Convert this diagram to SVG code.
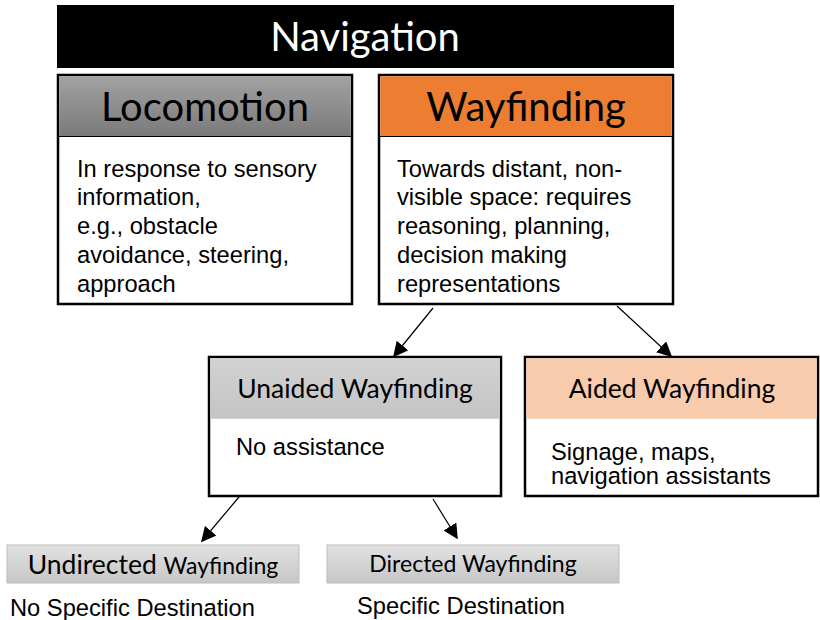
<svg xmlns="http://www.w3.org/2000/svg" width="820" height="620" viewBox="0 0 820 620">
  <style>
    .box { fill: #ffffff; stroke: #000000; stroke-width: 2.5; }
    .hdr { font-family: Lato, "Open Sans", sans-serif; text-anchor: middle; fill: #000000; }
    .body { font-family: "Liberation Sans", Arial, sans-serif; font-size: 23.7px; fill: #000000; }
    .edge { stroke: #000000; stroke-width: 1.2; fill: none; marker-end: url(#arrow); }
  </style>
  <defs>
    <linearGradient id="gDark" x1="0" y1="0" x2="0" y2="1">
      <stop offset="0" stop-color="#a2a2a2"/>
      <stop offset="1" stop-color="#7a7a7a"/>
    </linearGradient>
    <linearGradient id="gLight" x1="0" y1="0" x2="0" y2="1">
      <stop offset="0" stop-color="#d2d2d2"/>
      <stop offset="1" stop-color="#c4c4c4"/>
    </linearGradient>
    <linearGradient id="gPale" x1="0" y1="0" x2="0" y2="1">
      <stop offset="0" stop-color="#e2e2e2"/>
      <stop offset="1" stop-color="#c6c6c6"/>
    </linearGradient>
    <marker id="arrow" viewBox="0 0 10 10" refX="9" refY="5" markerWidth="15" markerHeight="15" markerUnits="userSpaceOnUse" orient="auto">
      <path d="M0,0 L10,5 L0,10 z" fill="#000000"/>
    </marker>
  </defs>

  <rect width="820" height="620" fill="#ffffff"/>

  <!-- Title bar -->
  <g id="navigation">
    <rect x="57" y="5" width="617" height="63" fill="#000000"/>
    <text class="hdr" x="365" y="51" font-size="40" style="fill:#ffffff">Navigation</text>
  </g>

  <!-- Locomotion -->
  <g id="locomotion">
    <rect class="box" x="58" y="75" width="294" height="229"/>
    <rect x="59.25" y="76.25" width="291.5" height="60" fill="url(#gDark)"/>
    <line x1="58" y1="136.5" x2="352" y2="136.5" stroke="#000000" stroke-width="1"/>
    <text class="hdr" x="205" y="121" font-size="40">Locomotion</text>
    <text class="body">
      <tspan x="77" y="177">In response to sensory</tspan>
      <tspan x="77" y="205">information,</tspan>
      <tspan x="77" y="234">e.g., obstacle</tspan>
      <tspan x="77" y="263">avoidance, steering,</tspan>
      <tspan x="77" y="292">approach</tspan>
    </text>
  </g>

  <!-- Wayfinding -->
  <g id="wayfinding">
    <rect class="box" x="379" y="75" width="294" height="229"/>
    <rect x="380.25" y="76.25" width="291.5" height="60" fill="#ed7d31"/>
    <line x1="379" y1="136.5" x2="673" y2="136.5" stroke="#000000" stroke-width="1"/>
    <text class="hdr" x="526" y="121" font-size="40">Wayfinding</text>
    <text class="body">
      <tspan x="397" y="177">Towards distant, non-</tspan>
      <tspan x="397" y="205">visible space: requires</tspan>
      <tspan x="397" y="234">reasoning, planning,</tspan>
      <tspan x="397" y="263">decision making</tspan>
      <tspan x="397" y="292">representations</tspan>
    </text>
  </g>

  <!-- Unaided Wayfinding -->
  <g id="unaided">
    <rect class="box" x="209" y="357" width="292" height="139"/>
    <rect x="210.25" y="358.25" width="289.5" height="60.5" fill="url(#gLight)"/>
    <text class="hdr" x="355" y="398" font-size="26.5">Unaided Wayfinding</text>
    <text class="body" x="236" y="455">No assistance</text>
  </g>

  <!-- Aided Wayfinding -->
  <g id="aided">
    <rect class="box" x="525" y="357" width="293" height="139"/>
    <rect x="526.25" y="358.25" width="290.5" height="60.5" fill="#f8cbad"/>
    <text class="hdr" x="672" y="398" font-size="26.5">Aided Wayfinding</text>
    <text class="body">
      <tspan x="551" y="460">Signage, maps,</tspan>
      <tspan x="551" y="484">navigation assistants</tspan>
    </text>
  </g>

  <!-- Undirected Wayfinding -->
  <g id="undirected">
    <rect x="7" y="545" width="292" height="38" fill="url(#gPale)" stroke="#bdbdbd" stroke-width="1"/>
    <text class="hdr" x="153" y="574" font-size="26.5">Undirected <tspan font-size="23">Wayfinding</tspan></text>
    <text class="body" x="10" y="616">No Specific Destination</text>
  </g>

  <!-- Directed Wayfinding -->
  <g id="directed">
    <rect x="327" y="545" width="292" height="38" fill="url(#gPale)" stroke="#bdbdbd" stroke-width="1"/>
    <text class="hdr" x="473" y="572" font-size="23">Directed Wayfinding</text>
    <text class="body" x="357" y="614">Specific Destination</text>
  </g>

  <!-- Connectors -->
  <g id="connectors">
    <line class="edge" x1="433" y1="308" x2="394" y2="356"/>
    <line class="edge" x1="617" y1="306" x2="671" y2="356"/>
    <line class="edge" x1="239" y1="497" x2="202" y2="541"/>
    <line class="edge" x1="433" y1="499" x2="457" y2="538"/>
  </g>
</svg>
